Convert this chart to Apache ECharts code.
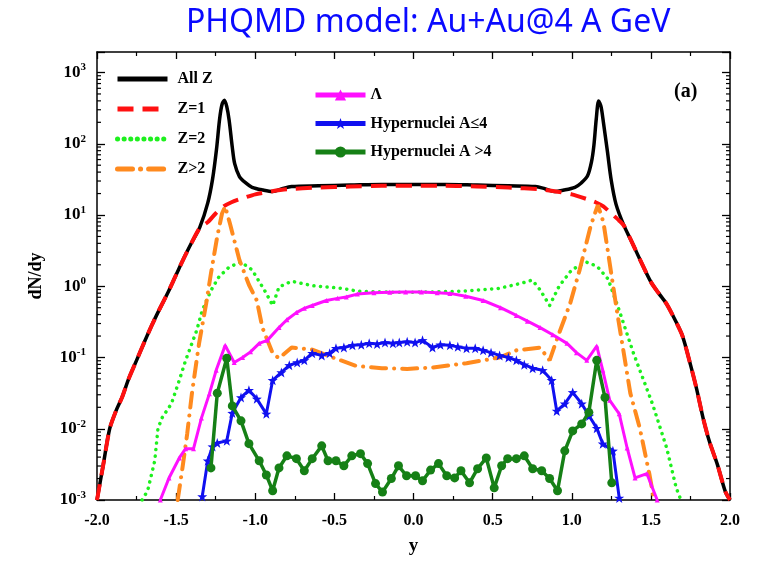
<!DOCTYPE html>
<html>
<head>
<meta charset="utf-8">
<script src="https://cdn.jsdelivr.net/npm/echarts@6/dist/echarts.min.js"></script>
<style>html,body{margin:0;padding:0;background:#fff}#c{width:760px;height:561px}</style>
</head>
<body>
<div id="c"></div>
<script>
// ---- data (rapidity y, dN/dy) ----
const allZ = [
  [-2.00,0.001],[-1.96,0.00316],[-1.92,0.01],[-1.88,0.0178],[-1.84,0.0282],[-1.80,0.0501],
  [-1.75,0.0912],[-1.70,0.166],[-1.65,0.295],[-1.60,0.501],[-1.55,0.832],[-1.50,1.45],
  [-1.45,2.51],[-1.40,4.17],[-1.35,6.76],[-1.30,14.8],[-1.27,31.6],[-1.245,83],[-1.225,224],
  [-1.21,355],[-1.195,407],[-1.18,331],[-1.165,214],[-1.145,89],[-1.13,52.5],[-1.10,34.7],
  [-1.06,28.2],[-1.02,24.5],[-0.95,22.4],[-0.89,21.4],[-0.83,23.4],[-0.77,25.1],[-0.60,25.7],
  [-0.40,26.3],[-0.20,26.9],[0.00,26.9],[0.20,26.9],[0.40,26.3],[0.60,25.7],[0.77,25.1],
  [0.83,23.4],[0.89,21.4],[0.95,22.4],[1.02,24.5],[1.06,28.2],[1.10,35.5],[1.125,56],
  [1.14,95],[1.155,224],[1.17,398],[1.185,331],[1.20,200],[1.225,79],[1.25,30.2],[1.28,14.1],
  [1.33,7.08],[1.38,4.17],[1.43,2.40],[1.50,1.15],[1.55,0.794],[1.60,0.562],[1.65,0.347],
  [1.70,0.2],[1.75,0.0794],[1.79,0.0355],[1.83,0.0141],[1.87,0.0066],[1.92,0.00316],
  [1.97,0.00132],[2.00,0.001]
];
const z1 = [
  [-2.00,0.001],[-1.96,0.00316],[-1.92,0.01],[-1.88,0.0178],[-1.84,0.0282],[-1.80,0.0501],
  [-1.75,0.0912],[-1.70,0.166],[-1.65,0.295],[-1.60,0.501],[-1.55,0.832],[-1.50,1.45],
  [-1.45,2.51],[-1.40,4.17],[-1.35,6.61],[-1.30,7.94],[-1.25,10.5],[-1.20,13.2],[-1.15,15.1],
  [-1.10,16.6],[-1.00,19.5],[-0.90,21.4],[-0.80,22.9],[-0.60,24.3],[-0.40,25.1],[-0.20,25.7],
  [0.00,25.7],[0.20,25.7],[0.40,25.1],[0.60,24.3],[0.80,22.9],[0.90,21.4],[1.00,19.5],
  [1.10,16.6],[1.15,15.1],[1.20,13.2],[1.25,10.5],[1.30,8.32],[1.33,7.08],[1.38,4.17],
  [1.43,2.40],[1.50,1.15],[1.55,0.794],[1.60,0.562],[1.65,0.347],[1.70,0.2],[1.75,0.0794],
  [1.79,0.0355],[1.83,0.0141],[1.87,0.0066],[1.92,0.00316],[1.97,0.00132],[2.00,0.001]
];
const z2 = [
  [-1.715,0.001],[-1.68,0.00135],[-1.635,0.00355],[-1.615,0.01],[-1.59,0.0141],[-1.53,0.0224],
  [-1.48,0.0479],[-1.44,0.0912],[-1.37,0.24],[-1.335,0.457],[-1.28,0.871],[-1.23,1.35],
  [-1.165,1.86],[-1.09,2.19],[-1.02,1.70],[-0.93,0.794],[-0.89,0.537],[-0.85,0.977],
  [-0.77,1.175],[-0.64,1.02],[-0.45,0.933],[-0.35,0.851],[-0.20,0.832],[-0.09,0.822],
  [0.10,0.832],[0.30,0.851],[0.54,0.933],[0.68,1.10],[0.75,1.22],[0.80,0.891],[0.86,0.537],
  [0.92,1.0],[1.00,1.70],[1.09,2.19],[1.16,1.91],[1.23,1.26],[1.30,0.457],[1.39,0.115],
  [1.51,0.0224],[1.60,0.00537],[1.66,0.00148],[1.69,0.001]
];
const zGt2 = [
  [-1.49,0.001],[-1.46,0.00282],[-1.43,0.00851],[-1.40,0.0316],[-1.355,0.158],[-1.31,0.575],
  [-1.28,1.51],[-1.24,5.01],[-1.21,10.5],[-1.19,13.2],[-1.16,7.59],[-1.10,2.34],[-1.04,1.05],
  [-0.99,0.631],[-0.955,0.263],[-0.89,0.115],[-0.85,0.0977],[-0.77,0.138],[-0.64,0.129],
  [-0.51,0.1],[-0.36,0.0759],[-0.20,0.0708],[-0.04,0.0692],[0.12,0.0724],[0.335,0.0832],
  [0.544,0.1],[0.65,0.126],[0.80,0.138],[0.86,0.0912],[0.92,0.219],[0.99,0.575],[1.05,1.70],
  [1.12,7.08],[1.165,13.8],[1.20,7.94],[1.24,2.09],[1.285,0.457],[1.37,0.0316],[1.43,0.0102],
  [1.49,0.00234],[1.52,0.001]
];
const lambda = [
  [-1.60,0.001],[-1.545,0.00204],[-1.48,0.00389],[-1.44,0.00525],[-1.39,0.00525],[-1.34,0.0141],
  [-1.29,0.0309],[-1.247,0.0661],[-1.19,0.148],[-1.133,0.0851],[-1.08,0.1],[-1.03,0.12],
  [-0.975,0.158],[-0.924,0.174],[-0.85,0.263],[-0.80,0.339],[-0.74,0.427],[-0.69,0.49],
  [-0.64,0.537],[-0.55,0.631],[-0.48,0.676],[-0.425,0.708],[-0.355,0.776],[-0.25,0.813],
  [-0.15,0.822],[-0.05,0.832],[0.05,0.832],[0.15,0.813],[0.23,0.794],[0.33,0.724],[0.44,0.631],
  [0.55,0.501],[0.65,0.389],[0.72,0.324],[0.80,0.263],[0.88,0.209],[0.97,0.158],[1.03,0.117],
  [1.095,0.0912],[1.158,0.145],[1.196,0.0661],[1.24,0.0251],[1.30,0.0162],[1.35,0.00537],
  [1.40,0.00204],[1.475,0.00234],[1.54,0.001]
];
const hyperLight = [
  [-1.335,0.00112],[-1.30,0.00355],[-1.27,0.00562],[-1.24,0.00631],[-1.18,0.00676],[-1.145,0.0166],
  [-1.09,0.0275],[-1.04,0.0347],[-0.99,0.0263],[-0.93,0.0162],[-0.89,0.0479],[-0.835,0.0617],
  [-0.785,0.0776],[-0.735,0.0851],[-0.69,0.0912],[-0.64,0.115],[-0.58,0.107],[-0.53,0.115],
  [-0.49,0.135],[-0.44,0.138],[-0.386,0.148],[-0.33,0.151],[-0.28,0.158],[-0.23,0.155],
  [-0.18,0.162],[-0.13,0.158],[-0.09,0.162],[-0.04,0.166],[0.01,0.162],[0.057,0.174],
  [0.12,0.138],[0.17,0.151],[0.23,0.148],[0.28,0.141],[0.335,0.135],[0.39,0.135],[0.44,0.126],
  [0.49,0.117],[0.544,0.107],[0.60,0.1],[0.65,0.0912],[0.70,0.0794],[0.753,0.0708],[0.816,0.0661],
  [0.873,0.0479],[0.905,0.0178],[0.956,0.0224],[1.006,0.0324],[1.063,0.0224],[1.11,0.0151],
  [1.158,0.0102],[1.196,0.00617],[1.26,0.0049],[1.30,0.00107]
];
const hyperHeavy = [
  [-1.28,0.00282],[-1.24,0.0316],[-1.18,0.0977],[-1.145,0.0209],[-1.09,0.0129],[-1.04,0.00617],
  [-0.975,0.00355],[-0.93,0.00224],[-0.89,0.00135],[-0.85,0.00282],[-0.80,0.00417],[-0.74,0.0038],
  [-0.69,0.00257],[-0.64,0.0038],[-0.58,0.00575],[-0.54,0.00355],[-0.49,0.00355],[-0.44,0.00302],
  [-0.39,0.00417],[-0.335,0.00447],[-0.29,0.00324],[-0.24,0.0017],[-0.196,0.00129],[-0.14,0.002],
  [-0.095,0.00302],[-0.044,0.00219],[0.013,0.00219],[0.057,0.00186],[0.108,0.00263],[0.158,0.00324],
  [0.21,0.00219],[0.26,0.00204],[0.30,0.00257],[0.354,0.00174],[0.405,0.00275],[0.46,0.00389],
  [0.51,0.00148],[0.557,0.00302],[0.595,0.0038],[0.65,0.0038],[0.70,0.00417],[0.753,0.00275],
  [0.81,0.00257],[0.86,0.002],[0.91,0.00135],[0.956,0.0049],[1.006,0.00933],[1.063,0.0117],
  [1.108,0.017],[1.158,0.0912],[1.21,0.0275],[1.253,0.00174]
];
const xRange = [-2, 2];
const yRange = [0.001, 1940];
const yMinorTicks = [];
for (let k = -3; k <= 2; k++) for (let m = 2; m <= 9; m++) yMinorTicks.push(m * Math.pow(10, k));

const SERIF = '"Liberation Serif","DejaVu Serif",serif';
const STAR = 'path://M0,-10L2.35,-3.24L9.51,-3.09L3.8,1.24L5.88,8.09L0,4L-5.88,8.09L-3.8,1.24L-9.51,-3.09L-2.35,-3.24Z';

const chart = echarts.init(document.getElementById('c'), null, {renderer: 'canvas'});

function xAxisCfg(pos, labels) {
  return {
    type: 'value', position: pos, min: xRange[0], max: xRange[1], interval: 0.5,
    axisLine: {show: true, onZero: false, lineStyle: {color: '#000', width: 1.5}},
    axisTick: {show: true, inside: true, length: 7, lineStyle: {color: '#000', width: 1.3}},
    minorTick: {show: true, splitNumber: 2, length: 4, lineStyle: {color: '#000', width: 1.2}},
    splitLine: {show: false},
    axisLabel: labels ? {show: true, margin: 13, color: '#000', fontFamily: SERIF, fontWeight: 'bold', fontSize: 16,
      formatter: v => v.toFixed(1)} : {show: false},
    name: labels ? 'y' : '', nameLocation: 'middle', nameGap: 37,
    nameTextStyle: {color: '#000', fontFamily: SERIF, fontWeight: 'bold', fontSize: 19}
  };
}
function yAxisCfg(pos, labels) {
  return {
    type: 'log', logBase: 10, position: pos, min: yRange[0], max: yRange[1],
    axisLine: {show: true, onZero: false, lineStyle: {color: '#000', width: 1.5}},
    axisTick: {show: true, inside: true, length: 8, lineStyle: {color: '#000', width: 1.3}},
    splitLine: {show: false},
    axisLabel: labels ? {
      show: true, margin: 11, color: '#000',
      formatter: v => {
        const l = Math.log10(v), e = Math.round(l);
        if (Math.abs(l - e) > 1e-6) return '';
        return '{b|10}{s|' + e + '}';
      },
      rich: {
        b: {fontFamily: SERIF, fontWeight: 'bold', fontSize: 17, color: '#000'},
        s: {fontFamily: SERIF, fontWeight: 'bold', fontSize: 11, color: '#000', padding: [0, 0, 10, 0]}
      }
    } : {show: false},
    name: labels ? 'dN/dy' : '', nameLocation: 'middle', nameGap: 52, nameRotate: 90,
    nameTextStyle: {color: '#000', fontFamily: SERIF, fontWeight: 'bold', fontSize: 18}
  };
}

const hideSym = {opacity: 0};
const option = {
  backgroundColor: '#fff',
  animation: false,
  title: {
    text: 'PHQMD model: Au+Au@4 A GeV', left: 181, top: 2,
    textStyle: {color: '#0a0aff', fontFamily: '"Noto Sans", sans-serif', fontWeight: 'normal', fontSize: 32}
  },
  grid: {left: 97, right: 30, top: 52, bottom: 59},
  xAxis: [xAxisCfg('bottom', true), xAxisCfg('top', false)],
  yAxis: [yAxisCfg('left', true), yAxisCfg('right', false)],
  legend: [
    {
      orient: 'vertical', left: 110, top: 66, itemWidth: 50, itemHeight: 14, itemGap: 14,
      lineStyle: {width: 5},
      textStyle: {color: '#000', fontFamily: SERIF, fontWeight: 'bold', fontSize: 16, padding: [0, 0, 0, 5]},
      data: [
        {name: 'All Z', itemStyle: hideSym},
        {name: 'Z=1', itemStyle: hideSym},
        {name: 'Z=2', itemStyle: hideSym},
        {name: 'Z>2', itemStyle: hideSym}
      ],
      selectedMode: false
    },
    {
      orient: 'vertical', left: 308, top: 82, itemWidth: 50, itemHeight: 14, itemGap: 12.5,
      lineStyle: {width: 5},
      textStyle: {color: '#000', fontFamily: SERIF, fontWeight: 'bold', fontSize: 16},
      data: ['Λ', 'Hypernuclei A≤4', 'Hypernuclei A >4'], selectedMode: false
    }
  ],
  graphic: [{
    type: 'text', left: 674, top: 82,
    style: {text: '(a)', fill: '#000', font: 'bold 20px ' + SERIF}
  }],
  series: [
    {name: 'All Z', type: 'line', data: allZ, symbol: 'none', smooth: 0.3, lineStyle: {color: '#000', width: 3.5}, itemStyle: {color: '#000'}, z: 2},
    {name: 'Z=1', type: 'line', data: z1, symbol: 'none', smooth: 0.2, lineStyle: {color: '#ff1010', width: 4, type: [16, 9]}, itemStyle: {color: '#ff1010'}, z: 3},
    {name: 'Z=2', type: 'line', data: z2, symbol: 'none', lineStyle: {color: '#1ef01e', width: 3.5, type: [0.1, 6.5], cap: 'round'}, itemStyle: {color: '#1ef01e'}, z: 3},
    {name: 'Z>2', type: 'line', data: zGt2, symbol: 'none', lineStyle: {color: '#ff8a1e', width: 4, type: [15, 8, 0.1, 8], cap: 'round'}, itemStyle: {color: '#ff8a1e'}, z: 3},
    {name: 'Λ', type: 'line', data: lambda, symbol: 'triangle', symbolSize: 5, showAllSymbol: true, lineStyle: {color: '#ff10ff', width: 3}, itemStyle: {color: '#ff10ff'}, z: 4},
    {name: 'Hypernuclei A≤4', type: 'line', data: hyperLight, symbol: STAR, symbolSize: 10, showAllSymbol: true, lineStyle: {color: '#1010f0', width: 3}, itemStyle: {color: '#1010f0'}, z: 5},
    {name: 'Hypernuclei A >4', type: 'line', data: hyperHeavy, symbol: 'circle', symbolSize: 9, showAllSymbol: true, lineStyle: {color: '#168016', width: 3.5}, itemStyle: {color: '#168016'}, z: 6},
    {
      type: 'custom', silent: true, z: 10,
      data: yMinorTicks.map(v => [xRange[0], v]),
      renderItem: (params, api) => {
        const v = api.value(1);
        const a = api.coord([xRange[0], v]);
        const b = api.coord([xRange[1], v]);
        const st = {stroke: '#000', lineWidth: 1.2};
        return {type: 'group', children: [
          {type: 'line', shape: {x1: a[0], y1: a[1], x2: a[0] + 4, y2: a[1]}, style: st},
          {type: 'line', shape: {x1: b[0] - 4, y1: b[1], x2: b[0], y2: b[1]}, style: st}
        ]};
      },
      clip: false
    }
  ]
};
chart.setOption(option);
</script>
</body>
</html>
